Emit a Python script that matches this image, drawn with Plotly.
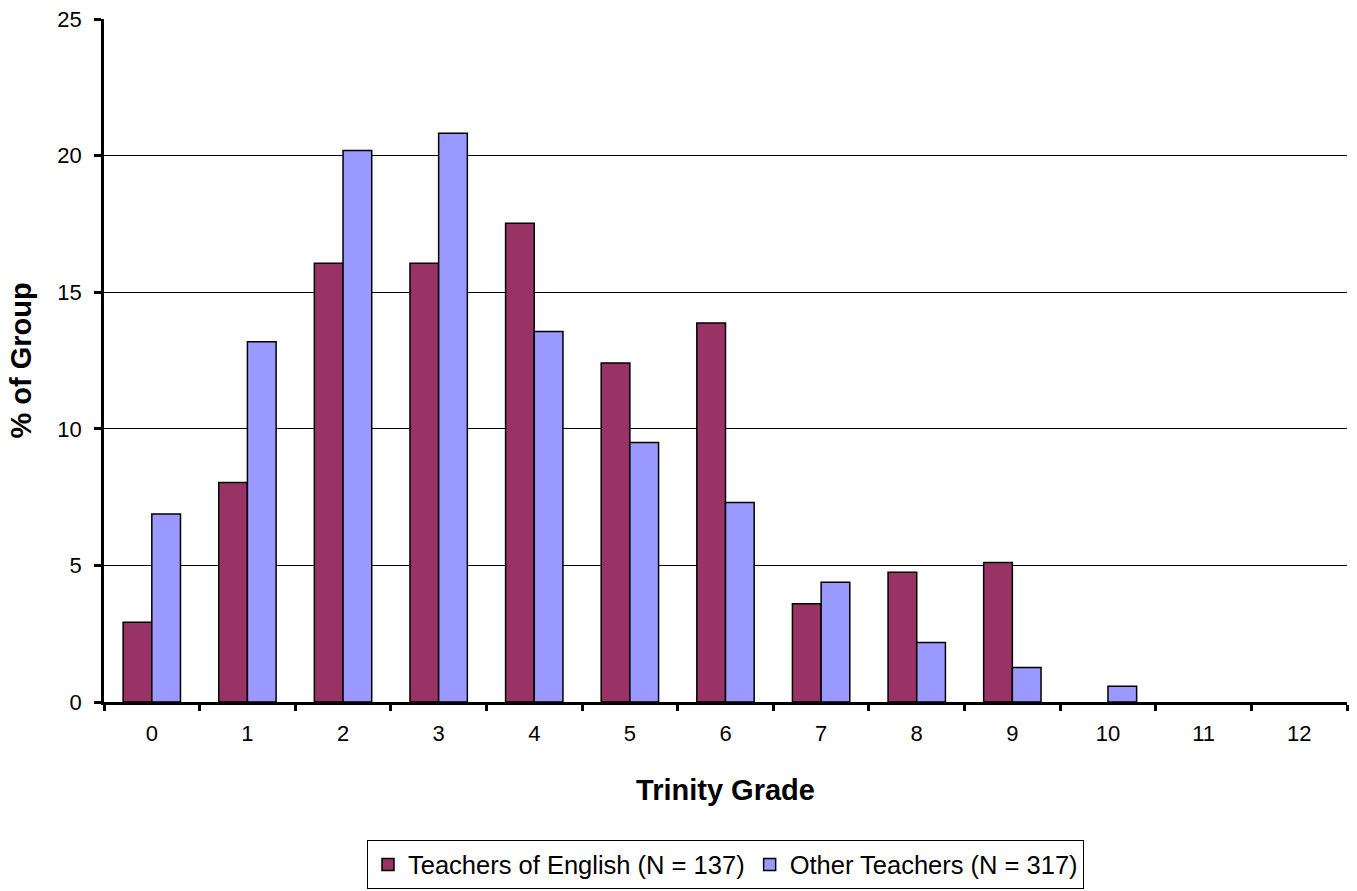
import plotly.graph_objects as go

grades = ["0", "1", "2", "3", "4", "5", "6", "7", "8", "9", "10", "11", "12"]
english = [2.92, 8.03, 16.06, 16.06, 17.52, 12.41, 13.87, 3.6, 4.75, 5.11, 0, 0, 0]
other = [6.88, 13.19, 20.19, 20.82, 13.56, 9.5, 7.3, 4.38, 2.18, 1.26, 0.58, 0, 0]
series_names = ["Teachers of English (N = 137)", "Other Teachers (N = 317)"]
colors = ["#993366", "#9999FF"]

fig = go.Figure()
for name, vals, col in zip(series_names, [english, other], colors):
    fig.add_trace(go.Bar(
        x=grades, y=vals, name=name,
        marker=dict(color=col, line=dict(color="black",
                                         width=[1.5 if v > 0 else 0 for v in vals])),
    ))

font_family = "Liberation Sans, Arial, sans-serif"
fig.update_layout(
    width=1357, height=891,
    margin=dict(l=104, r=10, t=19, b=189, autoexpand=False),
    paper_bgcolor="white", plot_bgcolor="white",
    barmode="group", bargap=0.4, bargroupgap=0,
    font=dict(family=font_family, size=22, color="black"),
    showlegend=True,
    legend=dict(
        orientation="h", x=0.5, xanchor="center", y=-0.2025, yanchor="top",
        bordercolor="black", borderwidth=1, font=dict(size=25.5),
        traceorder="normal",
    ),
    xaxis=dict(
        type="category", showline=True, linecolor="black", linewidth=2.5,
        ticks="outside", tickson="boundaries", ticklen=6, tickwidth=2.5, tickcolor="black",
        showgrid=False, ticklabelstandoff=10, ticklabeloverflow="allow",
        title=dict(text="<b>Trinity Grade</b>", font=dict(size=29), standoff=35),
        tickfont=dict(size=22),
    ),
    yaxis=dict(
        range=[0, 25], dtick=5, showline=True, linecolor="black", linewidth=2.5,
        ticks="outside", ticklen=7, tickwidth=2.5, tickcolor="black",
        showgrid=True, gridcolor="black", gridwidth=1, zeroline=False,
        ticklabelstandoff=8, ticklabeloverflow="allow",
        title=dict(text="<b>% of Group</b>", font=dict(size=29), standoff=18),
        tickfont=dict(size=22),
    ),
)

fig.write_html("out.html", config={"displayModeBar": False},
               post_script="document.body.style.margin='0';")
